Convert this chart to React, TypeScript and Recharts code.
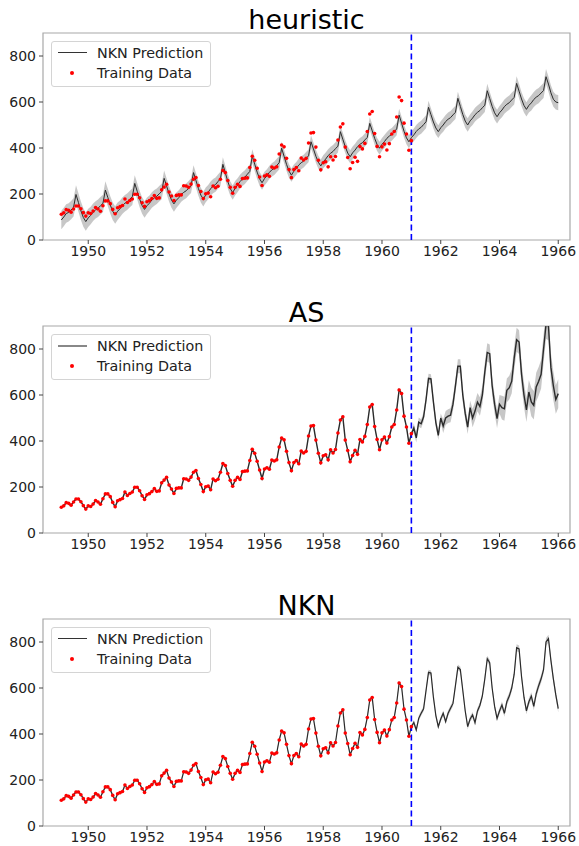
import React from 'react';
import { ComposedChart, Line, Area, XAxis, YAxis, ReferenceLine, ReferenceArea } from 'recharts';

// monthly series, first point Jan 1949 (plotted at 1949 + 1/12)
const startYear = 1949;
const splitYear = 1961;
const xDomain = [1948.46, 1966.4];
const xTicks = [1950, 1952, 1954, 1956, 1958, 1960, 1962, 1964, 1966];
const yTicks = [0, 200, 400, 600, 800];

const passengers = [
  112, 118, 132, 129, 121, 135, 148, 148, 136, 119, 104, 118,
  115, 126, 141, 135, 125, 149, 170, 170, 158, 133, 114, 140,
  145, 150, 178, 163, 172, 178, 199, 199, 184, 162, 146, 166,
  171, 180, 193, 181, 183, 218, 230, 242, 209, 191, 172, 194,
  196, 196, 236, 235, 229, 243, 264, 272, 237, 211, 180, 201,
  204, 188, 235, 227, 234, 264, 302, 293, 259, 229, 203, 229,
  242, 233, 267, 269, 270, 315, 364, 347, 312, 274, 237, 278,
  284, 277, 317, 313, 318, 374, 413, 405, 355, 306, 271, 306,
  315, 301, 356, 348, 355, 422, 465, 467, 404, 347, 305, 336,
  340, 318, 362, 348, 363, 435, 491, 505, 404, 359, 310, 337,
  360, 342, 406, 396, 420, 472, 548, 559, 463, 407, 362, 405,
  417, 391, 419, 461, 472, 535, 622, 606, 508, 461, 390, 432,
];

const heuristicFit = [
  87, 100, 115, 120, 130, 142, 198, 163, 127, 98, 80, 96,
  107, 121, 131, 138, 149, 159, 217, 185, 152, 125, 109, 125,
  136, 150, 160, 167, 178, 188, 246, 212, 178, 150, 133, 149,
  160, 174, 183, 190, 201, 211, 268, 235, 201, 174, 157, 173,
  184, 198, 207, 214, 225, 236, 293, 259, 224, 195, 178, 196,
  208, 223, 234, 241, 254, 266, 329, 292, 255, 224, 206, 225,
  238, 254, 265, 273, 286, 298, 365, 330, 295, 266, 249, 267,
  279, 294, 305, 312, 324, 336, 399, 364, 329, 300, 282, 299,
  311, 326, 336, 343, 355, 366, 427, 396, 364, 338, 322, 340,
  352, 367, 377, 385, 397, 408, 471, 438, 406, 378, 362, 379,
  391, 406, 416, 423, 435, 446, 507, 475, 442, 415, 399, 416,
  428, 442, 452, 459, 471, 483, 543, 508, 473, 444, 427, 445,
];

const heuristicForecast = [
  457, 472, 483, 490, 502, 514, 577, 545, 513, 487, 471, 488,
  500, 515, 525, 532, 544, 555, 616, 581, 546, 517, 500, 518,
  530, 545, 555, 563, 575, 586, 649, 615, 581, 553, 536, 553,
  565, 580, 590, 597, 609, 620, 681, 647, 613, 585, 568, 585,
  596, 611, 621, 628, 639, 650, 710, 678, 640, 612, 600, 597,
];

const asForecast = [
  457, 414, 482, 475, 505, 580, 672, 670, 570, 480, 424, 500,
  465, 500, 508, 512, 560, 640, 725, 725, 600, 520, 460, 545,
  500, 530, 569, 550, 600, 700, 785, 780, 640, 560, 497, 560,
  545, 540, 620, 632, 660, 760, 840, 830, 690, 600, 535, 613,
  570, 555, 635, 660, 690, 800, 905, 900, 720, 640, 580, 606,
];

const nknForecast = [
  450, 418, 468, 490, 510, 590, 668, 665, 560, 480, 432, 465,
  490, 454, 490, 512, 533, 610, 690, 680, 590, 500, 432, 465,
  483, 449, 500, 525, 566, 640, 727, 710, 600, 520, 468, 500,
  526, 490, 540, 565, 600, 660, 775, 770, 650, 560, 501, 540,
  565, 520, 575, 610, 640, 680, 800, 815, 720, 640, 570, 510,
];

// half width of the grey band, one value per year 1949..1965
const heuristicSpread = [40, 38, 36, 34, 32, 31, 30, 29, 28, 28, 28, 28, 28, 29, 30, 31, 33];
const asSpread = [5, 5, 5, 5, 5, 5, 5, 5, 6, 6, 7, 8, 20, 30, 40, 52, 62];
const nknSpread = [7, 7, 7, 7, 7, 7, 7, 7, 7, 7, 8, 8, 11, 12, 13, 15, 17];

function buildRows(fit: number[], forecast: number[], spread: number[]) {
  const pred = [...fit, ...forecast];
  return pred.map((v, i) => {
    const half = spread[Math.floor(i / 12)];
    return {
      t: startYear + (i + 1) / 12,
      pred: v,
      band: [v - half, v + half],
      train: i < passengers.length ? passengers[i] : null,
    };
  });
}

const font = 'DejaVu Sans, Verdana, sans-serif';
const W = 579;
const H = 293;

interface PanelProps {
  title: string;
  rows: ReturnType<typeof buildRows>;
  lineWidth: number;
  legendColor: string;
  legendWidth: number;
}

function Panel({ title, rows, lineWidth, legendColor, legendWidth }: PanelProps) {
  return (
    <div style={{ position: 'relative', width: W, height: H }}>
      <ComposedChart width={W} height={H} data={rows} margin={{ top: 33, right: 9, bottom: 23, left: 0 }}>
        <XAxis
          dataKey="t"
          type="number"
          domain={xDomain}
          ticks={xTicks}
          allowDataOverflow
          axisLine={false}
          tickSize={4}
          tickMargin={2}
          height={30}
          tickLine={{ stroke: '#444' }}
          tick={{ fontSize: 14, fill: '#222', fontFamily: font }}
        />
        <YAxis
          type="number"
          domain={[0, 900]}
          ticks={yTicks}
          allowDataOverflow
          axisLine={false}
          width={43}
          tickSize={4}
          tickMargin={3}
          tickLine={{ stroke: '#444' }}
          tick={{ fontSize: 14, fill: '#222', fontFamily: font }}
        />
        <Area dataKey="band" stroke="none" fill="#c4c4c4" fillOpacity={0.95} isAnimationActive={false} />
        <Line dataKey="pred" stroke="#2b2b2b" strokeWidth={lineWidth} dot={false} activeDot={false} isAnimationActive={false} />
        <Line
          dataKey="train"
          stroke="none"
          dot={{ r: 1.8, fill: '#ff0000', stroke: 'none' }}
          activeDot={false}
          isAnimationActive={false}
        />
        <ReferenceLine x={splitYear} stroke="#0000ff" strokeWidth={1.6} strokeDasharray="6 3.5" />
        <ReferenceArea x1={xDomain[0]} x2={xDomain[1]} y1={0} y2={900} fill="none" stroke="#a8a8a8" strokeWidth={1.2} />
      </ComposedChart>

      {/* title */}
      <div
        style={{
          position: 'absolute', left: 43, width: 527, top: 6, textAlign: 'center',
          fontFamily: font, fontSize: 27, lineHeight: '27px', color: '#000',
        }}
      >
        {title}
      </div>

      {/* legend */}
      <div
        style={{
          position: 'absolute', left: 51, top: 41, width: 158, height: 44,
          border: '1px solid #d4d4d4', borderRadius: 3, background: 'rgba(255,255,255,0.85)',
          fontFamily: font, fontSize: 14.3, color: '#222',
        }}
      >
        <div style={{ position: 'absolute', left: 6, top: 10, width: 29, height: legendWidth, background: legendColor }} />
        <div style={{ position: 'absolute', left: 45, top: 1, lineHeight: '20px' }}>NKN Prediction</div>
        <div style={{ position: 'absolute', left: 18, top: 29, width: 3.5, height: 3.5, borderRadius: 2, background: '#ff0000' }} />
        <div style={{ position: 'absolute', left: 45, top: 21, lineHeight: '20px' }}>Training Data</div>
      </div>
    </div>
  );
}

export default function App() {
  return (
    <div style={{ position: 'absolute', left: 0, top: 0, width: W, height: 846, background: '#fff' }}>
      <Panel title="heuristic" rows={buildRows(heuristicFit, heuristicForecast, heuristicSpread)} lineWidth={1} legendColor="#333" legendWidth={1} />
      <Panel title="AS" rows={buildRows(passengers, asForecast, asSpread)} lineWidth={1.4} legendColor="#888" legendWidth={2} />
      <Panel title="NKN" rows={buildRows(passengers, nknForecast, nknSpread)} lineWidth={1.2} legendColor="#333" legendWidth={1} />
    </div>
  );
}
